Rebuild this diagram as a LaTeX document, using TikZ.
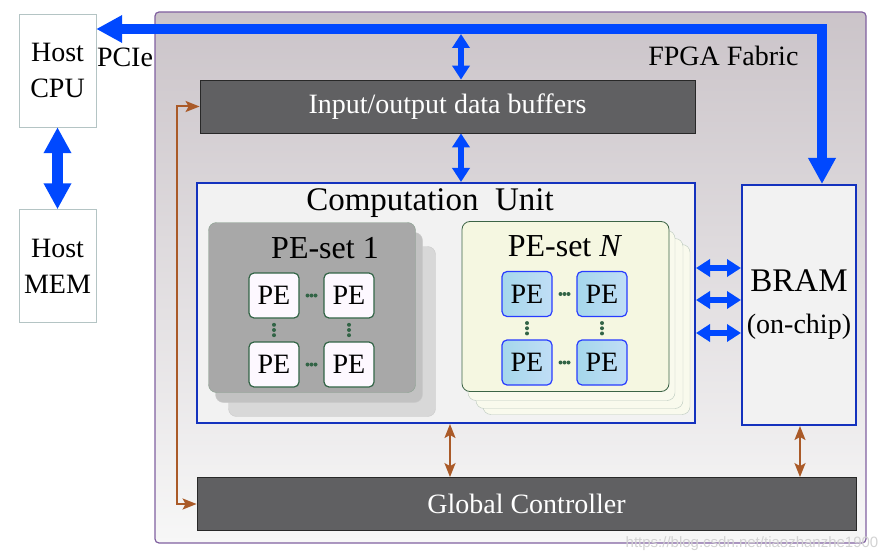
\documentclass[tikz,border=0pt]{standalone}
\usepackage{fontspec}
\setmainfont{Liberation Serif}
\newfontfamily\wmfont{Liberation Sans}
\usetikzlibrary{arrows.meta, positioning, calc}
\definecolor{busblue}{RGB}{0,72,255}
\definecolor{unitblue}{RGB}{20,50,190}
\definecolor{unitfill}{RGB}{242,242,242}
\definecolor{ctrlbrown}{RGB}{170,90,40}
\definecolor{fabedge}{RGB}{128,96,160}
\definecolor{fabtop}{RGB}{203,196,201}
\definecolor{fabbot}{RGB}{247,247,247}
\definecolor{darkfill}{RGB}{96,96,98}
\definecolor{darkedge}{RGB}{40,40,40}
\definecolor{hostgray}{RGB}{180,196,196}
\definecolor{peedge}{RGB}{50,100,70}
\definecolor{pewhite}{RGB}{253,248,255}
\definecolor{peblue}{RGB}{40,60,255}
\definecolor{peleft}{RGB}{165,215,235}
\definecolor{peright}{RGB}{192,222,246}
\definecolor{setgray}{RGB}{168,168,168}
\definecolor{setgreen}{RGB}{245,247,225}
\definecolor{setedge}{RGB}{60,100,70}

\begin{document}
\begin{tikzpicture}[x=1pt, y=-1pt, font=\fontsize{28}{36}\selectfont,
    hostbox/.style={draw=hostgray, fill=white, minimum width=77pt, minimum height=113pt, align=center, inner sep=0pt},
    darkbox/.style={draw=darkedge, thick, fill=darkfill, text=white, minimum height=53pt},
    unitbox/.style={draw=unitblue, line width=2pt, fill=unitfill},
    setbox/.style={rounded corners=8pt, minimum width=207pt, minimum height=170pt},
    pebox/.style={rounded corners=5pt, line width=1.2pt, minimum width=50pt, minimum height=45pt, inner sep=0pt},
    bus/.style={busblue, line width=10pt, {Triangle[width=26pt,length=26pt]}-{Triangle[width=26pt,length=26pt]}},
    link/.style={busblue, line width=6pt, {Triangle[width=17pt,length=14pt]}-{Triangle[width=17pt,length=14pt]}},
    ctrl/.style={ctrlbrown, line width=2pt, {Stealth[width=11pt,length=14pt,inset=3pt]}-{Stealth[width=11pt,length=14pt,inset=3pt]}}]
    \useasboundingbox (0,0) rectangle (892,559);

    \node[draw=fabedge, line width=1.2pt, rounded corners=4pt, top color=fabtop, bottom color=fabbot,
          minimum width=711pt, minimum height=531pt] (fpga) at (510.5,277.5) {};
    \node[anchor=east] (fablabel) at (802,56) {FPGA Fabric};

    \node[hostbox] (cpu) at (57.5,70.5) {Host\\CPU};
    \node[hostbox] (mem) at (57.5,266) {Host\\MEM};
    \node (pcie) at (125,57) {PCIe};

    \node[darkbox, minimum width=495pt] (buf) at (447.5,106.5) {Input/output data buffers};
    \node[unitbox, minimum width=498pt, minimum height=240pt] (cu) at (446,303) {};
    \node[font=\fontsize{33}{36}\selectfont] (cutitle) at (430,203) {Computation\ \ Unit};
    \node[unitbox, minimum width=114pt, minimum height=240pt, align=center] (bram) at (799,305)
        {{\fontsize{33}{36}\selectfont BRAM}\\[6pt](on-chip)};
    \node[darkbox, minimum width=659pt] (gc) at (526.5,504) {Global Controller};

    \foreach \dx/\dy/\col in {20/24/setgray!45, 7/10/setgray!70}
        \node[setbox, fill=\col, draw=gray!40] at (312+\dx,307.5+\dy) {};
    \node[setbox, fill=setgray, draw=setedge!60] (set1) at (312,307.5) {};
    \foreach \dx/\dy in {21/23, 14/17, 6/9}
        \node[setbox, fill=setgreen!60, draw=setedge!35] at (565.5+\dx,306.5+\dy) {};
    \node[setbox, fill=setgreen, draw=setedge, thick] (setN) at (565.5,306.5) {};
    \node[font=\fontsize{32}{36}\selectfont] (set1title) at (325,248) {PE-set 1};
    \node[font=\fontsize{32}{36}\selectfont] (setNtitle) at (565,246) {PE-set \textit{N}};

    \foreach \c/\px/\qx in {1/274/527, 2/349/602}
        \foreach \r/\py/\qy in {1/295.5/294, 2/364.5/362.5}
        {
            \node[pebox, draw=peedge, fill=pewhite] (a\r\c) at (\px,\py) {PE};
            \node[pebox, draw=peblue, left color=peleft, right color=peright] (b\r\c) at (\qx,\qy) {PE};
        }
    \foreach \s in {a,b}
        \foreach \k in {1,2}
            \foreach \d in {-4,0,4}
            {
                \fill[peedge] ($(\s\k1)!0.5!(\s\k2)+(\d,0)$) circle (2);
                \fill[peedge] ($(\s1\k)!0.5!(\s2\k)+(0,\d*1.3)$) circle (2);
            }

    \coordinate (bus) at (822,29);
    \coordinate (tap) at (461,34);
    \draw[link] (tap) -- (tap |- buf.north);
    \draw[bus, line join=miter] (cpu.east |- bus) -- (bus) -- (bus |- bram.north);
    \draw[link] (buf.south -| tap) -- (cu.north -| tap);
    \foreach \y in {268,300,333}
        \draw[link] (cu.east |- 0,\y) -- (bram.west |- 0,\y);
    \draw[bus, line width=11pt] (cpu) -- (mem);

    \draw[ctrl] (cu.south -| 450,0) -- (gc.north -| 450,0);
    \draw[ctrl] (bram.south -| 800,0) -- (gc.north -| 800,0);
    \draw[ctrl] (gc.west) -- ++(-20,0) |- (buf.west);

    \node[font=\wmfont\fontsize{15}{16}\selectfont, text=gray!35] (mark) at (752,544) {https://blog.csdn.net/tiaozhanzhe1900};
\end{tikzpicture}
\end{document}
